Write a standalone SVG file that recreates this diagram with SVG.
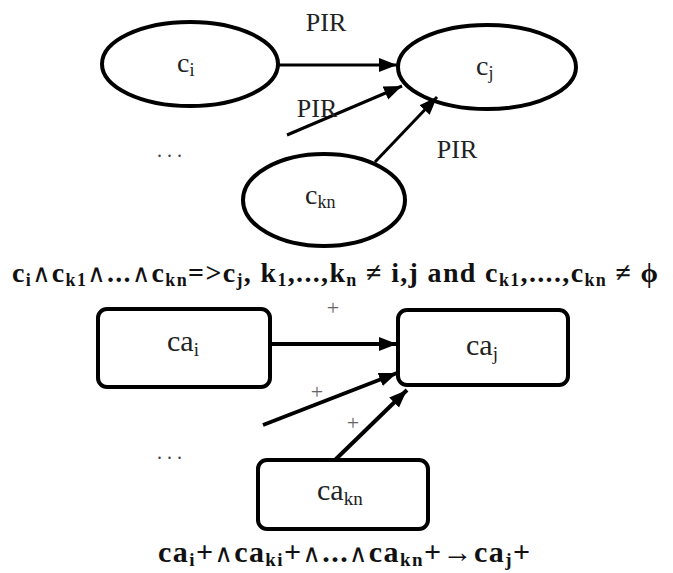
<svg xmlns="http://www.w3.org/2000/svg" width="673" height="573" viewBox="0 0 673 573" font-family="'Liberation Serif', 'DejaVu Serif', serif">
  <style>
    text { font-family: "Liberation Serif", "DejaVu Serif", serif; }
    .node { fill: #fff; stroke: #000; stroke-width: 4; }
    .edge { stroke: #000; fill: none; }
    .thin { stroke-width: 3; }
    .thick { stroke-width: 4; }
    .lbl { fill: #222; }
    .edge-lbl { font-size: 26px; fill: #222; }
    .plus { font-size: 22px; fill: #666; }
    .dots { font-size: 20px; fill: #444; }
    .formula { font-weight: bold; fill: #111; }
    .wedge { font-size: 25px; font-weight: normal; }
  </style>
  <defs>
    <marker id="head" markerUnits="userSpaceOnUse" markerWidth="20" markerHeight="16" refX="18" refY="7" orient="auto">
      <path d="M0,0 L18,7 L0,14 Z" fill="#000"/>
    </marker>
  </defs>
  <rect width="673" height="573" fill="#fff"/>

  <!-- rule graph: concepts linked by PIR -->
  <g id="node-ci">
    <ellipse class="node" cx="190" cy="64" rx="88" ry="42"/>
    <text class="lbl" x="177" y="72" font-size="28">c<tspan font-size="18" dy="4">i</tspan></text>
  </g>
  <g id="node-cj">
    <ellipse class="node" cx="487" cy="67" rx="89" ry="42"/>
    <text class="lbl" x="476" y="75" font-size="28">c<tspan font-size="18" dy="4">j</tspan></text>
  </g>
  <g id="node-ckn">
    <ellipse class="node" cx="324" cy="200" rx="81" ry="46"/>
    <text class="lbl" x="305" y="204" font-size="28">c<tspan font-size="18" dy="4">kn</tspan></text>
  </g>

  <g id="connectors-top">
    <line class="edge thin" x1="278" y1="65" x2="397" y2="65" marker-end="url(#head)"/>
    <line class="edge thin" x1="287" y1="135" x2="402" y2="86" marker-end="url(#head)"/>
    <line class="edge thin" x1="375" y1="162" x2="437" y2="97" marker-end="url(#head)"/>
  </g>
  <g id="labels-top">
    <text class="edge-lbl" x="326" y="31" text-anchor="middle">PIR</text>
    <text class="edge-lbl" x="317" y="117" text-anchor="middle">PIR</text>
    <text class="edge-lbl" x="457" y="158" text-anchor="middle">PIR</text>
    <text class="dots" x="157" y="157">. . .</text>
  </g>

  <text class="formula" x="12" y="282" font-size="28" textLength="646" lengthAdjust="spacing">c<tspan font-size="18" dy="4">i</tspan><tspan class="wedge" dy="-4">∧</tspan>c<tspan font-size="18" dy="4">k1</tspan><tspan class="wedge" dy="-4">∧</tspan>...<tspan class="wedge">∧</tspan>c<tspan font-size="18" dy="4">kn</tspan><tspan dy="-4">=&gt;c</tspan><tspan font-size="18" dy="4">j</tspan><tspan dy="-4">, k</tspan><tspan font-size="18" dy="4">1</tspan><tspan dy="-4">,...,k</tspan><tspan font-size="18" dy="4">n</tspan><tspan dy="-4"> ≠ i,j and c</tspan><tspan font-size="18" dy="4">k1</tspan><tspan dy="-4">,....,c</tspan><tspan font-size="18" dy="4">kn</tspan><tspan dy="-4"> ≠ ϕ</tspan></text>

  <!-- activation graph: concept activations linked by + -->
  <g id="node-cai">
    <rect class="node" x="98" y="309" width="172" height="78" rx="9"/>
    <text class="lbl" x="167" y="351" font-size="30">ca<tspan font-size="19" dy="5">i</tspan></text>
  </g>
  <g id="node-caj">
    <rect class="node" x="398" y="310" width="170" height="75" rx="9"/>
    <text class="lbl" x="466" y="355" font-size="30">ca<tspan font-size="19" dy="5">j</tspan></text>
  </g>
  <g id="node-cakn">
    <rect class="node" x="258" y="460" width="170" height="69" rx="9"/>
    <text class="lbl" x="317" y="500" font-size="30">ca<tspan font-size="19" dy="5">kn</tspan></text>
  </g>

  <g id="connectors-bottom">
    <line class="edge thick" x1="272" y1="344" x2="397" y2="344" marker-end="url(#head)"/>
    <line class="edge thick" x1="263" y1="425" x2="397" y2="373" marker-end="url(#head)"/>
    <line class="edge thick" x1="335" y1="460" x2="407" y2="390" marker-end="url(#head)"/>
  </g>
  <g id="labels-bottom">
    <text class="plus" x="333" y="315" text-anchor="middle">+</text>
    <text class="plus" x="317" y="399" text-anchor="middle">+</text>
    <text class="plus" x="353" y="430" text-anchor="middle">+</text>
    <text class="dots" x="157" y="459">. . .</text>
  </g>

  <text class="formula" x="158" y="562" font-size="30" textLength="372" lengthAdjust="spacing">ca<tspan font-size="19" dy="4">i</tspan><tspan dy="-4">+</tspan><tspan class="wedge">∧</tspan>ca<tspan font-size="19" dy="4">ki</tspan><tspan dy="-4">+</tspan><tspan class="wedge">∧</tspan>...<tspan class="wedge">∧</tspan>ca<tspan font-size="19" dy="4">kn</tspan><tspan dy="-4">+→ca</tspan><tspan font-size="19" dy="4">j</tspan><tspan dy="-4">+</tspan></text>
</svg>
